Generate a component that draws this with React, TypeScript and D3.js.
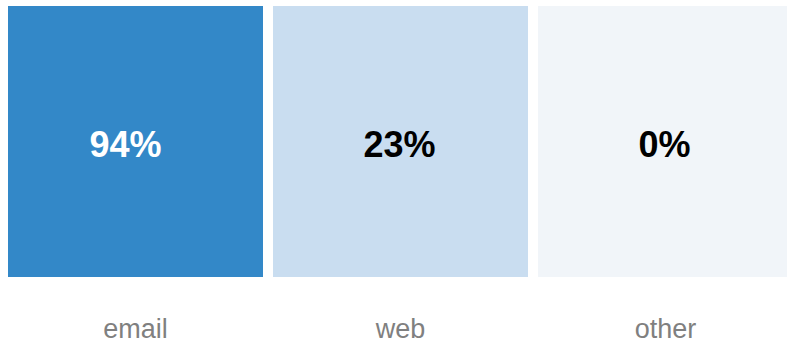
import React from "react";
import * as d3 from "d3";

const categories = ["email", "web", "other"];
const values = [94, 23, 0];

const W = 787;
const H = 344;

export default function App() {
  const x = d3
    .scaleBand<string>()
    .domain(categories)
    .range([8, 793])
    .paddingInner(10 / 265)
    .paddingOuter(0);
  const color = d3
    .scaleLinear<string>()
    .domain([0, 23, 94])
    .range(["#f1f5f9", "#c9ddf0", "#3388c8"]);
  const top = 6;
  const bottom = 277;
  const mid = (top + bottom) / 2;

  return (
    <svg
      width={W}
      height={H}
      style={{ position: "absolute", left: 0, top: 0, background: "#fff" }}
      fontFamily="'Liberation Sans', Arial, Helvetica, sans-serif"
    >
      {categories.map((c, i) => {
        const v = values[i];
        const cx = (x(c) as number) + x.bandwidth() / 2;
        const dark = v > 50;
        return (
          <g key={c}>
            <rect
              x={x(c)}
              y={top}
              width={x.bandwidth()}
              height={bottom - top}
              fill={color(v)}
            />
            <text
              x={cx}
              dx={dark ? -10 : -1}
              y={mid + 15}
              textAnchor="middle"
              fontSize={36}
              fontWeight="bold"
              fill={dark ? "#ffffff" : "#000000"}
            >
              {v + "%"}
            </text>
            <text
              x={cx}
              y={338}
              textAnchor="middle"
              fontSize={27}
              fill="#808080"
            >
              {c}
            </text>
          </g>
        );
      })}
    </svg>
  );
}
